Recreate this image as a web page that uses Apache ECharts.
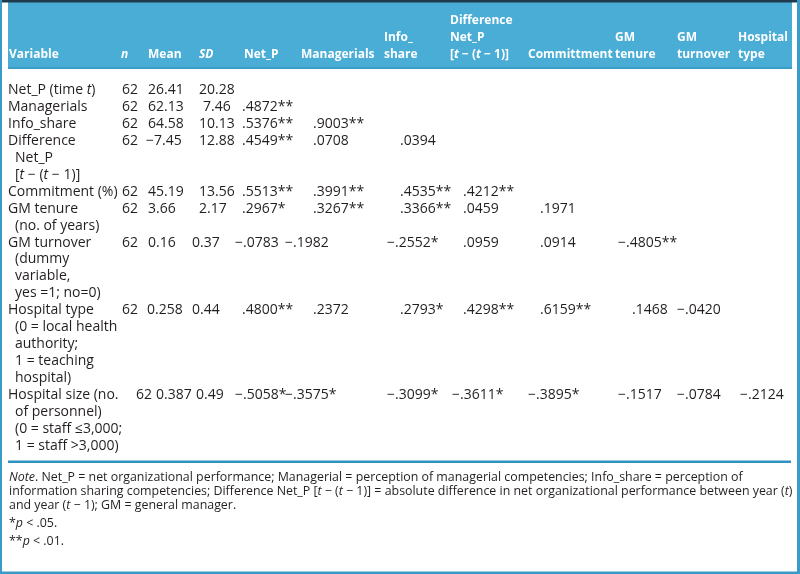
<!DOCTYPE html>
<html>
<head>
<meta charset="utf-8">
<script src="https://cdn.jsdelivr.net/npm/echarts@6/dist/echarts.min.js"></script>
<style>html,body{margin:0;padding:0;background:#fff}#c{width:800px;height:574px}</style>
</head>
<body>
<div id="c"></div>
<script>
// ---- table content ----
const headerLabels = [
  ["Variable"], ["{i|n}"], ["Mean"], ["{i|SD}"], ["Net_P"], ["Managerials"],
  ["Info_", "share"], ["Difference", "Net_P", "[{i|t} − ({i|t} − 1)]"], ["Committment"],
  ["GM", "tenure"], ["GM", "turnover"], ["Hospital", "type"]
];
const variableLabels = [
  ["Net_P (time {i|t})"],
  ["Managerials"],
  ["Info_share"],
  ["Difference", "Net_P", "[{i|t} − ({i|t} − 1)]"],
  ["Commitment (%)"],
  ["GM tenure", "(no. of years)"],
  ["GM turnover", "(dummy", "variable,", "yes =1; no=0)"],
  ["Hospital type", "(0 = local health", "authority;", "1 = teaching", "hospital)"],
  ["Hospital size (no.", "of personnel)", "(0 = staff \u22643,000;", "1 = staff >3,000)"]
];
const nValues = ["62", "62", "62", "62", "62", "62", "62", "62", "62"];
const meanValues = ["26.41", "62.13", "64.58", "−7.45", "45.19", "3.66", "0.16", "0.258", "0.387"];
const sdValues = ["20.28", "7.46", "10.13", "12.88", "13.56", "2.17", "0.37", "0.44", "0.49"];
const correlations = [
  [],
  [".4872**"],
  [".5376**", ".9003**"],
  [".4549**", ".0708", ".0394"],
  [".5513**", ".3991**", ".4535**", ".4212**"],
  [".2967*", ".3267**", ".3366**", ".0459", ".1971"],
  ["−.0783", "−.1982", "−.2552*", ".0959", ".0914", "−.4805**"],
  [".4800**", ".2372", ".2793*", ".4298**", ".6159**", ".1468", "−.0420"],
  ["−.5058*", "−.3575*", "−.3099*", "−.3611*", "−.3895*", "−.1517", "−.0784", "−.2124"]
];
const noteLines = [
  "{i|Note}. Net_P = net organizational performance; Managerial = perception of managerial competencies; Info_share = perception of",
  "information sharing competencies; Difference Net_P [{i|t} − ({i|t} − 1)] = absolute difference in net organizational performance between year ({i|t})",
  "and year ({i|t} − 1); GM = general manager.",
  "*{i|p} < .05.",
  "**{i|p} < .01."
];

// ---- layout (positions only) ----
const headerX = [9, 121, 148, 199, 244, 301, 384, 450, 528, 615, 677, 738];
const headerLineY = [21, 38, 55];
const statX = [[122, 148, 199], [122, 148, 203], [122, 148, 199], [122, 146, 199], [122, 148, 199],
               [122, 148, 199], [122, 148, 192], [122, 147, 192], [136, 156, 196]];
const corrPosX = [242, 313, 400, 463, 540, 632, 690, 752];
const corrNegX = [235, 285, 387, 452, 528, 618, 677, 740];
const bodyTop = 90, bodyStep = 16.95;
const noteY = [477, 491, 505, 523, 541];

const FONT = '"Open Sans", "Noto Sans", sans-serif';
const styles = {
  head: { fontSize: 12, fontWeight: 'bold', fill: '#ffffff' },
  body: { fontSize: 14, fontWeight: 'normal', fill: '#231f20' },
  note: { fontSize: 12.4, fontWeight: 'normal', fill: '#231f20' }
};

const cells = [];
function add(x, y, text, kind) { cells.push({ x, y, text, kind }); }

headerLabels.forEach((lines, c) => {
  const start = headerLineY.length - lines.length;
  lines.forEach((t, k) => add(headerX[c], headerLineY[start + k], t, 'head'));
});
let line = 0;
variableLabels.forEach((lines, r) => {
  const y0 = bodyTop + line * bodyStep;
  lines.forEach((t, k) => add(k === 0 ? 8 : 15, bodyTop + (line + k) * bodyStep, t, 'body'));
  add(statX[r][0], y0, nValues[r], 'body');
  add(statX[r][1], y0, meanValues[r], 'body');
  add(statX[r][2], y0, sdValues[r], 'body');
  correlations[r].forEach((v, c) => {
    add(v.charAt(0) === '−' ? corrNegX[c] : corrPosX[c], y0, v, 'body');
  });
  line += lines.length;
});
noteLines.forEach((t, k) => add(9, noteY[k], t, 'note'));

const chart = echarts.init(document.getElementById('c'), null, { renderer: 'canvas' });
chart.setOption({
  animation: false,
  backgroundColor: '#ffffff',
  grid: { left: 0, right: 0, top: 0, bottom: 0 },
  xAxis: { type: 'value', min: 0, max: 800, show: false },
  yAxis: { type: 'value', min: 0, max: 574, inverse: true, show: false },
  graphic: [
    { type: 'rect', shape: { x: 8, y: 2, width: 784, height: 66 }, style: { fill: '#4aadd6' }, z: -10 },
    { type: 'rect', shape: { x: 8, y: 67, width: 784, height: 2 }, style: { fill: '#3b9cc8' }, z: -9 },
    { type: 'rect', shape: { x: 0, y: 0, width: 800, height: 2.5 }, style: { fill: '#1f3b4d' }, z: -9 },
    { type: 'rect', shape: { x: 8, y: 460.5, width: 783, height: 2.5 }, style: { fill: '#2f92bf' }, z: -9 },
    { type: 'rect', shape: { x: 0, y: 0, width: 2, height: 574 }, style: { fill: '#3a9bc8' }, z: -9 },
    { type: 'rect', shape: { x: 797, y: 0, width: 3, height: 574 }, style: { fill: '#3a9bc8' }, z: -9 },
    { type: 'rect', shape: { x: 0, y: 571.5, width: 800, height: 2.5 }, style: { fill: '#3a9bc8' }, z: -9 }
  ],
  series: [{
    type: 'custom',
    coordinateSystem: 'cartesian2d',
    clip: false,
    data: cells.map(c => [c.x, c.y]),
    renderItem: function (params, api) {
      const cell = cells[params.dataIndex];
      const st = styles[cell.kind];
      const p = api.coord([api.value(0), api.value(1)]);
      const base = { fontFamily: FONT, fontSize: st.fontSize, fontWeight: st.fontWeight, fill: st.fill };
      return {
        type: 'text',
        x: p[0], y: p[1],
        style: Object.assign({}, base, {
          text: cell.text,
          align: 'left',
          verticalAlign: 'middle',
          rich: { i: Object.assign({}, base, { fontStyle: 'italic' }) }
        })
      };
    }
  }]
});
</script>
</body>
</html>
